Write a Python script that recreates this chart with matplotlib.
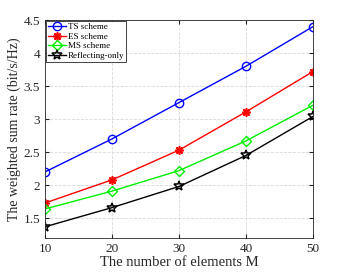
import matplotlib.pyplot as plt

plt.rcParams['font.family'] = ['Liberation Serif', 'DejaVu Serif']

M = [10, 20, 30, 40, 50]
ts_rate = [2.20, 2.70, 3.25, 3.80, 4.40]
es_rate = [1.73, 2.08, 2.53, 3.11, 3.72]
ms_rate = [1.64, 1.91, 2.22, 2.67, 3.21]
ref_rate = [1.37, 1.66, 1.98, 2.45, 3.04]

fig = plt.figure(figsize=(3.46, 2.72), dpi=100)
ax = fig.add_axes([45 / 346, 1 - 238 / 272, (313 - 45) / 346, (238 - 20) / 272])

ax.plot(M, ts_rate, color="blue", marker="o", ms=6, mfc="none", lw=1, label="TS scheme")
ax.plot(M, es_rate, color="red", marker=(8, 2, 0), ms=6, mew=1.2, lw=1, label="ES scheme")
ax.plot(M, ms_rate, color="#00ee00", marker="D", ms=5, mfc="none", lw=1, label="MS scheme")
ax.plot(M, ref_rate, color="black", marker="*", ms=7, mfc="none", mew=1.1, lw=1,
        label="Reflecting-only")

ax.set_xlim(10, 50)
ax.set_ylim(1.2, 4.5)
ax.set_xticks(M)
ax.set_yticks([1.5, 2, 2.5, 3, 3.5, 4, 4.5])
ax.set_yticklabels(["1.5", "2", "2.5", "3", "3.5", "4", "4.5"])
ax.tick_params(direction="in", labelsize=9.5, colors="#262626", length=3, top=True, right=True)
ax.grid(True, linestyle="--", color="#d9d9d9", lw=0.6)
for s in ax.spines.values():
    s.set_color("#262626")
    s.set_linewidth(0.6)

ax.set_xlabel("The number of elements M", fontsize=10.5, labelpad=1, color="#262626")
ax.set_ylabel("The weighted sum rate (bit/s/Hz)", fontsize=10, labelpad=2, color="#262626")

leg = ax.legend(loc="upper left", fontsize=6.5, borderaxespad=0.1, handlelength=2.0,
                handletextpad=0.2, labelspacing=0.15, borderpad=0.2, fancybox=False,
                framealpha=1, edgecolor="#262626")
leg.get_frame().set_linewidth(0.6)

fig.savefig("out.png", dpi=100)
